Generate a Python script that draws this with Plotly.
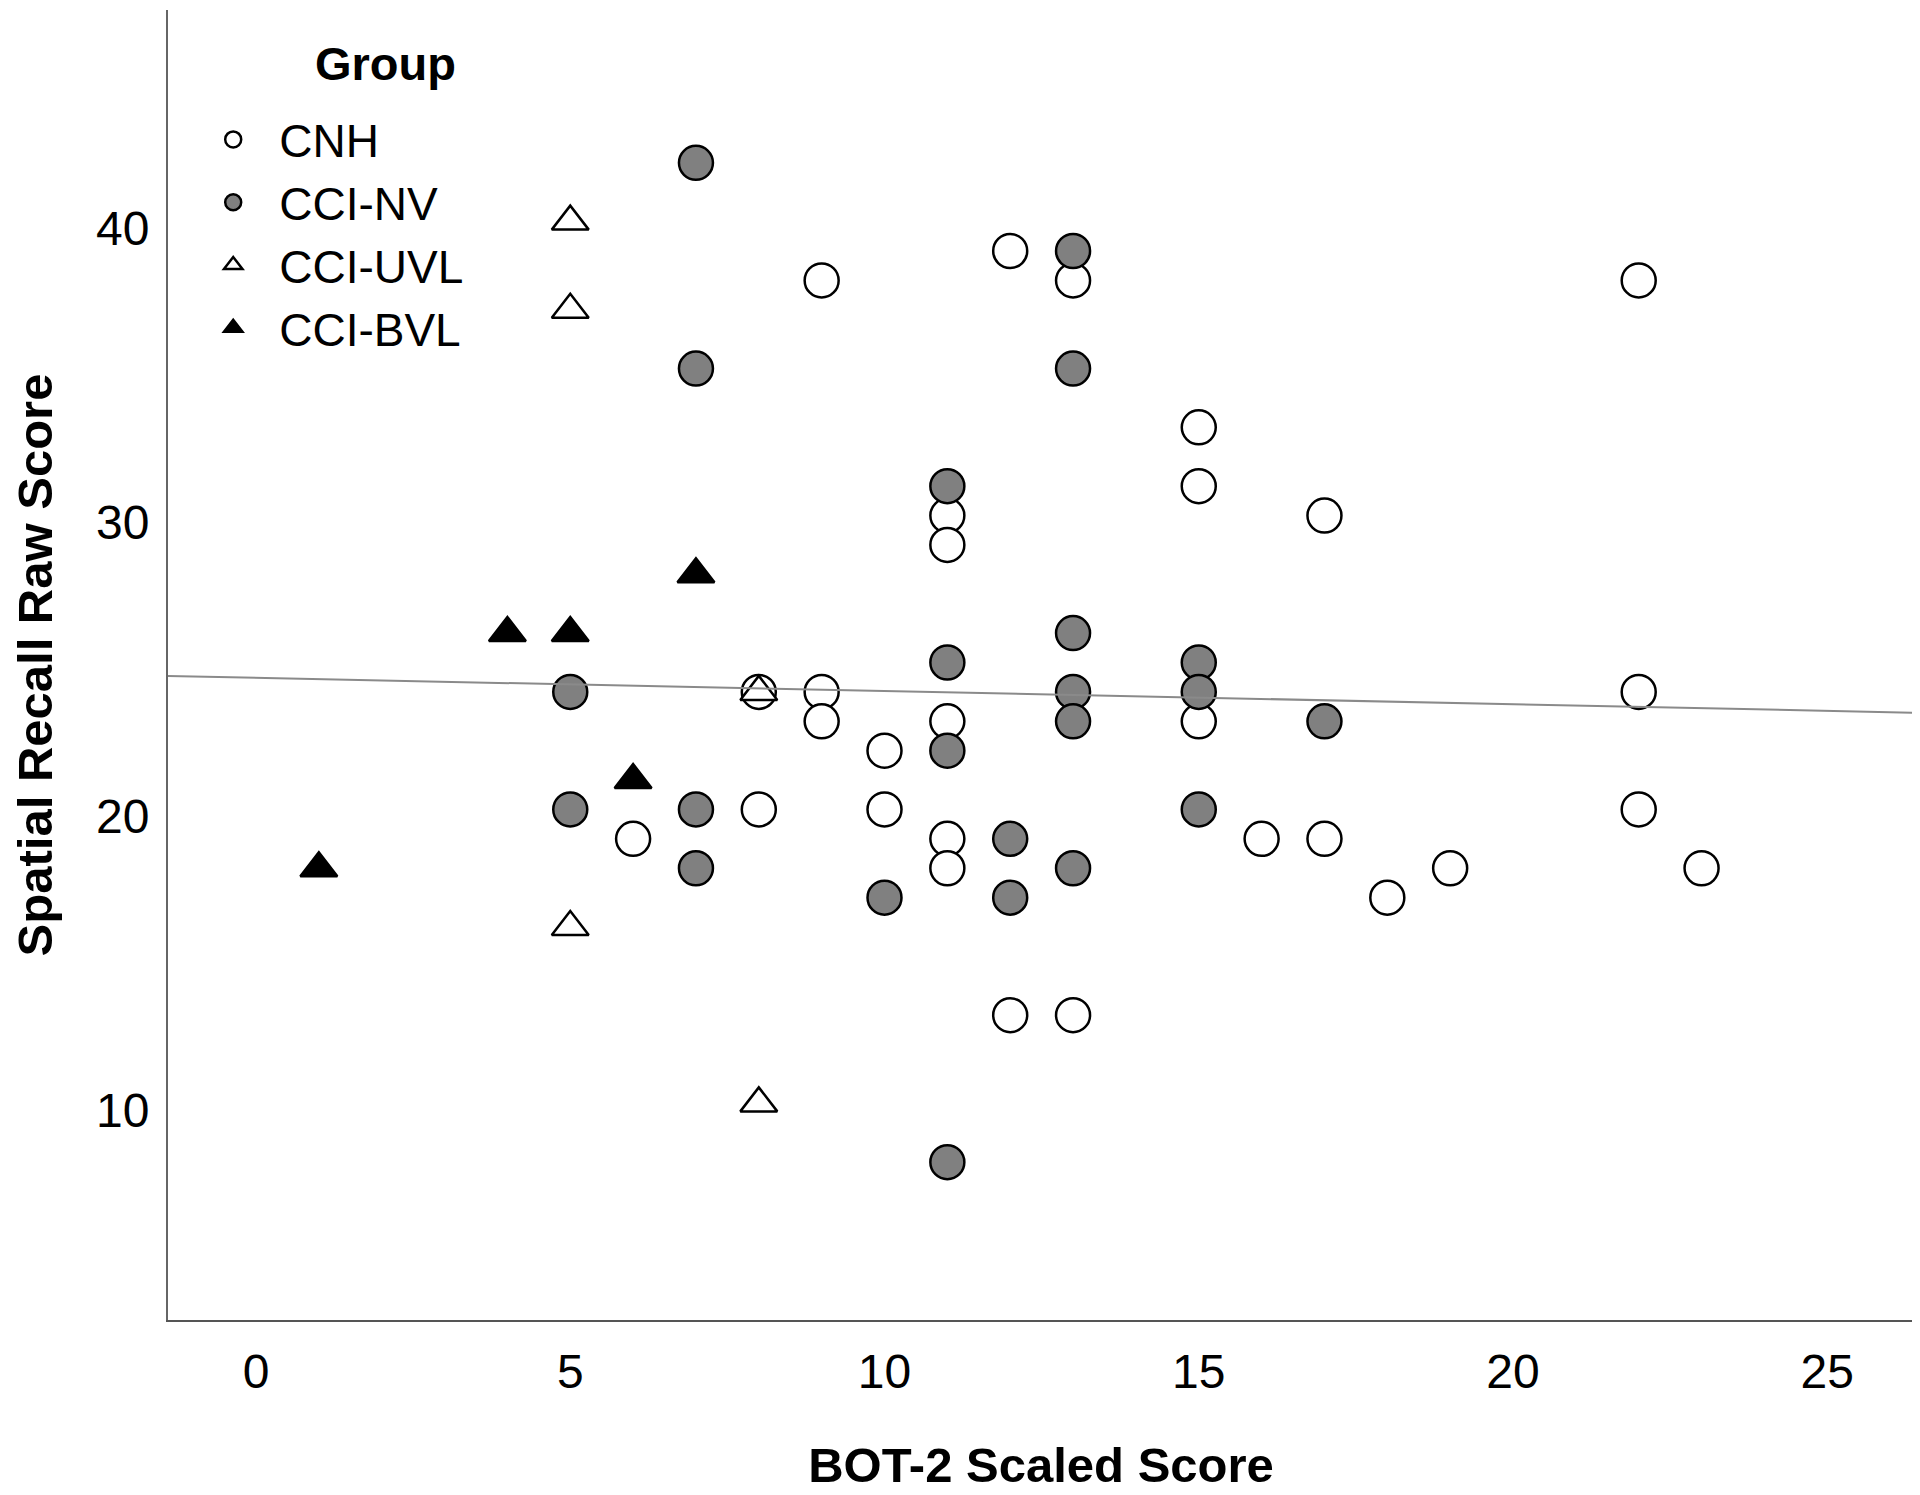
import plotly.graph_objects as go

# BOT-2 scaled score (x) vs spatial recall raw score (y)
cnh_x = [12, 9, 13, 22, 15, 15, 11, 17, 11, 8, 9, 22, 9, 11, 15, 10, 8, 10, 22,
         6, 11, 16, 17, 11, 19, 23, 18, 12, 13]
cnh_y = [39, 38, 38, 38, 33, 31, 30, 30, 29, 24, 24, 24, 23, 23, 23, 22, 20, 20, 20,
         19, 19, 19, 19, 18, 18, 18, 17, 13, 13]

nv_x = [7, 13, 7, 13, 11, 13, 11, 15, 5, 13, 15, 13, 17, 11, 5, 7, 15, 12, 7, 13,
        10, 12, 11]
nv_y = [42, 39, 35, 35, 31, 26, 25, 25, 24, 24, 24, 23, 23, 22, 20, 20, 20, 19, 18, 18,
        17, 17, 8]

uvl_x = [5, 5, 8, 5, 8]
uvl_y = [40, 37, 24, 16, 10]

bvl_x = [7, 4, 5, 6, 1]
bvl_y = [28, 26, 26, 21, 18]

# total fit line as drawn in the figure
fit_intercept = 24.48
fit_slope = -0.045

x_range = [-1.4, 26.38]
y_range = [2.63, 47.2]
x_ticks = [0, 5, 10, 15, 20, 25]
y_ticks = [10, 20, 30, 40]

FONT = "Liberation Sans, Arial, sans-serif"

fig = go.Figure()

fig.add_trace(go.Scatter(
    x=cnh_x, y=cnh_y, mode="markers", name="CNH",
    marker=dict(symbol="circle", size=34, color="white",
                line=dict(color="black", width=2.5))))
fig.add_trace(go.Scatter(
    x=nv_x, y=nv_y, mode="markers", name="CCI-NV",
    marker=dict(symbol="circle", size=34, color="#808080",
                line=dict(color="black", width=2.5))))
fig.add_trace(go.Scatter(
    x=uvl_x, y=uvl_y, mode="markers", name="CCI-UVL",
    marker=dict(symbol="triangle-up", size=32, color="white",
                line=dict(color="black", width=2.5))))
fig.add_trace(go.Scatter(
    x=bvl_x, y=bvl_y, mode="markers", name="CCI-BVL",
    marker=dict(symbol="triangle-up", size=32, color="black",
                line=dict(color="black", width=2.5))))

fit_y = [fit_intercept + fit_slope * v for v in x_range]
fig.add_trace(go.Scatter(
    x=x_range, y=fit_y, mode="lines", showlegend=False,
    line=dict(color="#8a8a8a", width=2), hoverinfo="skip"))

# the page body adds an 8px offset, so the figure is 8px smaller
fig.update_layout(
    width=1912, height=1487,
    plot_bgcolor="white", paper_bgcolor="white",
    margin=dict(l=160, r=6, t=2, b=175, autoexpand=False),
    font=dict(family=FONT, size=48, color="black"),
    legend=dict(
        x=0.011, y=0.929, xanchor="left", yanchor="top",
        font=dict(family=FONT, size=46, color="black"),
        itemwidth=82, tracegroupgap=0, bgcolor="rgba(0,0,0,0)",
        traceorder="normal"),
    annotations=[dict(
        text="<b>Group</b>", x=0.1243, y=0.9595, xref="paper", yref="paper",
        showarrow=False, xanchor="center", yanchor="middle",
        font=dict(family=FONT, size=47, color="black"))],
)

fig.update_xaxes(
    range=x_range, tickvals=x_ticks, showgrid=False, zeroline=False,
    showline=True, linecolor="#555555", linewidth=2, ticks="",
    automargin=False, ticklabelstandoff=8,
    tickfont=dict(family=FONT, size=48, color="black"),
    title=dict(text="<b>BOT-2 Scaled Score</b>", standoff=51,
               font=dict(family=FONT, size=49, color="black")))
fig.update_yaxes(
    range=y_range, tickvals=y_ticks, showgrid=False, zeroline=False,
    showline=True, linecolor="#666666", linewidth=2, ticks="",
    automargin=False, ticklabelstandoff=7, ticklabelshift=7,
    tickfont=dict(family=FONT, size=48, color="black"),
    title=dict(text="<b>Spatial Recall Raw Score</b>", standoff=35,
               font=dict(family=FONT, size=49, color="black")))

fig.write_html("out.html")
